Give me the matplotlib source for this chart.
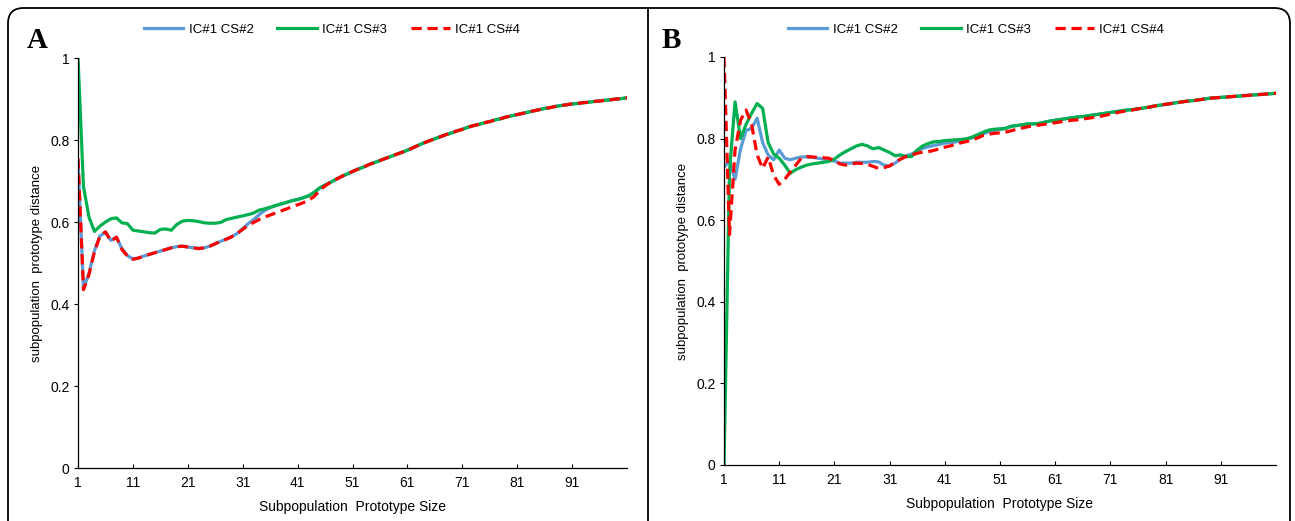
import matplotlib
matplotlib.use("Agg")
import matplotlib.pyplot as plt
from matplotlib.patches import FancyBboxPatch
from matplotlib.lines import Line2D

plt.rcParams['font.family'] = ['Liberation Sans', 'DejaVu Sans']

sizes = list(range(1, 102))
x_ticks = [1, 11, 21, 31, 41, 51, 61, 71, 81, 91]
y_ticks = [0, 0.2, 0.4, 0.6, 0.8, 1.0]
y_ticklabels = ["0", "0.2", "0.4", "0.6", "0.8", "1"]
series_names = ["IC#1 CS#2", "IC#1 CS#3", "IC#1 CS#4"]

# ---------- Panel A ----------
a_cs3 = [1.000, 0.686, 0.612, 0.577, 0.590, 0.600, 0.608, 0.610, 0.598, 0.596,
         0.580, 0.578, 0.576, 0.574, 0.573, 0.582, 0.583, 0.580, 0.594, 0.602,
         0.604, 0.603, 0.601, 0.598, 0.597, 0.597, 0.599, 0.606, 0.609, 0.612,
         0.615, 0.618, 0.622, 0.629, 0.632, 0.636, 0.640, 0.644, 0.648, 0.652,
         0.655, 0.659, 0.664, 0.672, 0.683, 0.690, 0.697, 0.704, 0.711, 0.717,
         0.723, 0.729, 0.734, 0.740, 0.745, 0.750, 0.755, 0.760, 0.765, 0.770,
         0.775, 0.781, 0.787, 0.793, 0.798, 0.803, 0.808, 0.813, 0.817, 0.822,
         0.826, 0.831, 0.835, 0.838, 0.842, 0.845, 0.849, 0.852, 0.856, 0.859,
         0.862, 0.865, 0.868, 0.871, 0.874, 0.877, 0.879, 0.882, 0.884, 0.886,
         0.888, 0.889, 0.891, 0.892, 0.894, 0.895, 0.897, 0.898, 0.900, 0.901,
         0.903]
a_cs2 = [0.750, 0.437, 0.475, 0.530, 0.566, 0.575, 0.555, 0.563, 0.535, 0.518,
         0.510, 0.512, 0.517, 0.521, 0.525, 0.529, 0.533, 0.537, 0.540, 0.541,
         0.539, 0.537, 0.536, 0.537, 0.541, 0.547, 0.553, 0.558, 0.564, 0.572,
         0.584, 0.596, 0.606, 0.618, 0.628, 0.635, 0.640, 0.644, 0.648, 0.652,
         0.655, 0.659, 0.664, 0.672, 0.683, 0.690, 0.697, 0.704, 0.711, 0.717,
         0.723, 0.729, 0.734, 0.740, 0.745, 0.750, 0.755, 0.760, 0.765, 0.770,
         0.775, 0.781, 0.787, 0.793, 0.798, 0.803, 0.808, 0.813, 0.817, 0.822,
         0.826, 0.831, 0.835, 0.838, 0.842, 0.845, 0.849, 0.852, 0.856, 0.859,
         0.862, 0.865, 0.868, 0.871, 0.874, 0.877, 0.879, 0.882, 0.884, 0.886,
         0.888, 0.889, 0.891, 0.892, 0.894, 0.895, 0.897, 0.898, 0.900, 0.901,
         0.903]
a_cs4 = [0.755, 0.435, 0.472, 0.528, 0.566, 0.576, 0.553, 0.563, 0.533, 0.517,
         0.509, 0.512, 0.517, 0.521, 0.525, 0.529, 0.533, 0.537, 0.540, 0.541,
         0.539, 0.537, 0.535, 0.537, 0.541, 0.547, 0.553, 0.558, 0.564, 0.572,
         0.582, 0.592, 0.599, 0.606, 0.612, 0.617, 0.622, 0.627, 0.632, 0.637,
         0.642, 0.647, 0.653, 0.662, 0.677, 0.688, 0.697, 0.704, 0.711, 0.717,
         0.723, 0.729, 0.734, 0.740, 0.745, 0.750, 0.755, 0.760, 0.765, 0.770,
         0.775, 0.781, 0.787, 0.793, 0.798, 0.803, 0.808, 0.813, 0.817, 0.822,
         0.826, 0.831, 0.835, 0.838, 0.842, 0.845, 0.849, 0.852, 0.856, 0.859,
         0.862, 0.865, 0.868, 0.871, 0.874, 0.877, 0.879, 0.882, 0.884, 0.886,
         0.888, 0.889, 0.891, 0.892, 0.894, 0.895, 0.897, 0.898, 0.900, 0.901,
         0.903]

# ---------- Panel B ----------
b_cs3 = [0.000, 0.720, 0.890, 0.800, 0.835, 0.862, 0.886, 0.874, 0.790, 0.762,
         0.752, 0.735, 0.715, 0.724, 0.730, 0.735, 0.738, 0.740, 0.742, 0.744,
         0.750, 0.760, 0.768, 0.775, 0.782, 0.786, 0.782, 0.775, 0.778, 0.772,
         0.766, 0.758, 0.760, 0.756, 0.756, 0.772, 0.782, 0.788, 0.792, 0.793,
         0.795, 0.796, 0.797, 0.798, 0.800, 0.804, 0.810, 0.816, 0.821, 0.823,
         0.824, 0.825, 0.830, 0.832, 0.834, 0.836, 0.836, 0.837, 0.840, 0.843,
         0.845, 0.847, 0.849, 0.851, 0.853, 0.854, 0.856, 0.858, 0.860, 0.862,
         0.864, 0.866, 0.868, 0.870, 0.871, 0.873, 0.875, 0.877, 0.880, 0.882,
         0.884, 0.886, 0.888, 0.890, 0.892, 0.893, 0.895, 0.897, 0.899, 0.900,
         0.901, 0.902, 0.903, 0.904, 0.905, 0.906, 0.907, 0.908, 0.909, 0.910,
         0.911]
b_cs2 = [0.730, 0.745, 0.700, 0.775, 0.820, 0.825, 0.850, 0.790, 0.760, 0.748,
         0.772, 0.752, 0.748, 0.752, 0.755, 0.755, 0.754, 0.752, 0.750, 0.748,
         0.745, 0.740, 0.740, 0.740, 0.742, 0.742, 0.742, 0.744, 0.743, 0.735,
         0.733, 0.740, 0.750, 0.758, 0.762, 0.770, 0.776, 0.780, 0.783, 0.786,
         0.789, 0.790, 0.792, 0.795, 0.798, 0.802, 0.807, 0.812, 0.817, 0.820,
         0.822, 0.825, 0.830, 0.832, 0.834, 0.836, 0.836, 0.837, 0.840, 0.843,
         0.845, 0.847, 0.849, 0.851, 0.853, 0.854, 0.856, 0.858, 0.860, 0.862,
         0.864, 0.866, 0.868, 0.870, 0.871, 0.873, 0.875, 0.877, 0.880, 0.882,
         0.884, 0.886, 0.888, 0.890, 0.892, 0.893, 0.895, 0.897, 0.899, 0.900,
         0.901, 0.902, 0.903, 0.904, 0.905, 0.906, 0.907, 0.908, 0.909, 0.910,
         0.911]
b_cs4 = [1.000, 0.565, 0.772, 0.845, 0.870, 0.835, 0.760, 0.727, 0.755, 0.710,
         0.688, 0.700, 0.718, 0.735, 0.752, 0.756, 0.755, 0.754, 0.753, 0.752,
         0.745, 0.738, 0.735, 0.737, 0.740, 0.739, 0.737, 0.732, 0.727, 0.729,
         0.733, 0.742, 0.750, 0.756, 0.760, 0.764, 0.767, 0.768, 0.771, 0.775,
         0.779, 0.782, 0.786, 0.790, 0.793, 0.797, 0.802, 0.808, 0.811, 0.813,
         0.814, 0.816, 0.819, 0.823, 0.826, 0.829, 0.831, 0.833, 0.835, 0.837,
         0.839, 0.841, 0.843, 0.845, 0.846, 0.848, 0.850, 0.852, 0.854, 0.857,
         0.860, 0.863, 0.866, 0.868, 0.870, 0.873, 0.875, 0.877, 0.880, 0.882,
         0.884, 0.886, 0.888, 0.890, 0.892, 0.893, 0.895, 0.897, 0.899, 0.900,
         0.901, 0.902, 0.903, 0.904, 0.905, 0.906, 0.907, 0.908, 0.909, 0.910,
         0.911]

colors = ["#5B9BD5", "#00B050", "#FF0000"]
W, H = 1295, 521
fig = plt.figure(figsize=(W / 100, H / 100), dpi=100)

def fx(px):
    return px / W

def fy(py):
    return 1 - py / H

# frame: rounded box + middle divider
box = FancyBboxPatch((fx(8), fy(560)), fx(1290) - fx(8), fy(8) - fy(560),
                     boxstyle="round,pad=0,rounding_size=0.012",
                     transform=fig.transFigure, fill=False, ec="black", lw=1.3,
                     mutation_aspect=W / H)
fig.patches.append(box)
fig.add_artist(Line2D([fx(648), fx(648)], [fy(8), 0], transform=fig.transFigure,
                      color="black", lw=1.3))

def make_panel(rect, cs2, cs3, cs4, letter, letter_pos, legend_center):
    ax = fig.add_axes(rect)
    lw = 2.3
    ax.plot(sizes, cs2, color=colors[0], lw=lw, label=series_names[0], solid_joinstyle="round")
    ax.plot(sizes, cs3, color=colors[1], lw=lw, label=series_names[1], solid_joinstyle="round")
    ax.plot(sizes, cs4, color=colors[2], lw=lw, ls=(0, (3.2, 1.8)), label=series_names[2])
    ax.set_xlim(1, 101)
    ax.set_ylim(0, 1)
    ax.set_xticks(x_ticks)
    ax.set_xticklabels([str(t) for t in x_ticks], fontsize=10)
    ax.set_yticks(y_ticks)
    ax.set_yticklabels(y_ticklabels, fontsize=10)
    ax.tick_params(axis="x", direction="in", length=3, width=0.8, pad=6)
    ax.tick_params(axis="y", direction="out", length=3, width=0.8, pad=3)
    for s in ["top", "right"]:
        ax.spines[s].set_visible(False)
    for s in ["left", "bottom"]:
        ax.spines[s].set_linewidth(0.9)
    ax.set_xlabel("Subpopulation  Prototype Size", fontsize=10, labelpad=7)
    ax.set_ylabel("subpopulation  prototype distance", fontsize=9.5, labelpad=5)
    fig.text(fx(letter_pos[0]), fy(letter_pos[1]), letter, fontsize=21,
             fontweight="bold", family="Liberation Serif", ha="left", va="center")
    ax.legend(loc="center", bbox_to_anchor=(fx(legend_center), fy(30)),
              bbox_transform=fig.transFigure, ncol=3, frameon=False, fontsize=9.5,
              handlelength=3.0, handletextpad=0.4, columnspacing=1.8)
    return ax

make_panel([fx(78), fy(468), fx(627) - fx(78), fy(58) - fy(468)],
           a_cs2, a_cs3, a_cs4, "A", (27, 41), 332)
make_panel([fx(724), fy(465), fx(1276) - fx(724), fy(57) - fy(465)],
           b_cs2, b_cs3, b_cs4, "B", (662, 41), 976)

fig.savefig("out.png", dpi=100)
